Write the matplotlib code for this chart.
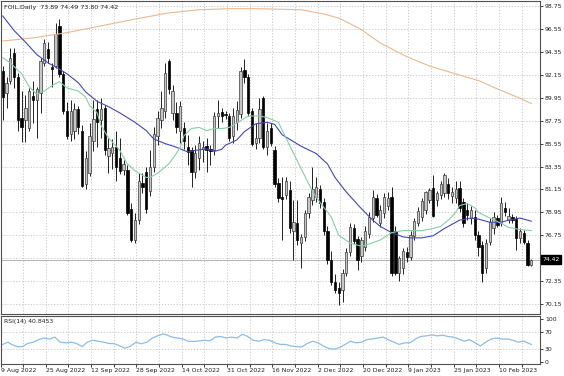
import matplotlib
matplotlib.use("Agg")
import matplotlib.pyplot as plt
import matplotlib.transforms as mtransforms
import numpy as np

plt.rcParams['font.family'] = 'DejaVu Sans'

# FOIL daily candles (open, high, low, close)
opens = [92.5, 90.4, 91.6, 94.2, 91.9, 88.0, 87.8, 87.0, 90.1, 89.7,
         90.4, 93.3, 94.6, 92.9, 93.0, 96.85, 92.25, 88.7, 86.5, 86.8,
         88.9, 86.8, 81.7, 82.7, 85.8, 88.9, 87.8, 89.0, 84.4, 84.6,
         85.2, 84.2, 83.0, 82.97, 79.3, 76.3, 78.2, 81.8, 82.8, 81.0,
         83.3, 86.3, 87.8, 88.7, 93.5, 88.5, 88.5, 86.8, 87.0, 85.2,
         84.9, 82.8, 84.2, 85.0, 85.3, 85.0, 84.9, 88.2, 88.6, 88.4,
         88.2, 86.3, 87.6, 88.4, 92.6, 91.9, 88.7, 85.65, 86.1, 89.9,
         85.2, 87.0, 84.9, 81.8, 80.4, 80.6, 81.06, 77.2, 77.9, 76.0,
         76.6, 78.9, 80.1, 80.4, 81.2, 79.9, 77.2, 74.4, 72.3, 71.7,
         71.5, 73.1, 75.1, 77.4, 76.4, 74.8, 75.6, 76.9, 78.4, 80.3,
         77.9, 78.9, 79.6, 80.4, 77.2, 73.1, 73.6, 75.1, 74.7, 76.7,
         77.9, 78.5, 79.2, 80.1, 81.3, 80.1, 80.6, 80.8, 81.7, 80.5,
         80.3, 81.3, 79.9, 79.15, 78.4, 78.5, 76.75, 75.8, 73.6, 76.1,
         77.4, 78.4, 77.9, 79.4, 78.2, 78.5, 78.3, 76.5, 77.0, 76.0,
         73.89]
highs = [93.0, 91.9, 94.7, 94.7, 92.3, 90.6, 90.2, 90.9, 91.6, 91.0,
         93.8, 95.6, 95.3, 93.3, 97.1, 97.5, 92.5, 89.5, 89.7, 89.4,
         89.2, 87.3, 84.8, 87.5, 89.7, 89.7, 89.95, 89.3, 86.1, 86.0,
         86.8, 86.1, 84.0, 83.5, 79.8, 78.9, 82.7, 82.7, 83.3, 84.9,
         87.1, 88.7, 90.6, 93.3, 93.7, 91.2, 89.5, 89.6, 87.6, 86.4,
         85.2, 85.4, 86.3, 85.8, 86.1, 85.4, 88.6, 89.7, 89.0, 88.7,
         88.5, 89.0, 89.6, 92.9, 93.7, 92.2, 89.0, 87.5, 89.9, 90.1,
         87.5, 87.5, 85.3, 82.2, 82.3, 82.3, 82.0, 80.1, 80.1, 76.9,
         79.2, 80.8, 83.3, 82.3, 81.6, 80.3, 77.6, 75.2, 73.0, 72.3,
         73.5, 75.5, 77.9, 77.8, 76.7, 76.6, 77.6, 79.0, 81.1, 80.7,
         79.7, 80.8, 80.9, 81.4, 77.6, 74.8, 75.5, 75.6, 77.2, 78.4,
         79.5, 80.3, 81.0, 81.3, 82.5, 81.0, 82.0, 82.7, 82.2, 81.4,
         82.0, 82.0, 80.3, 79.8, 79.6, 79.2, 77.2, 76.2, 76.4, 78.4,
         79.0, 78.7, 80.4, 79.9, 79.4, 78.8, 78.6, 77.4, 77.3, 76.3,
         74.49]
lows = [87.8, 89.0, 91.3, 90.9, 86.8, 85.7, 85.7, 86.8, 87.5, 86.1,
        88.5, 93.0, 93.3, 91.0, 92.8, 91.9, 88.4, 86.0, 85.8, 86.0,
        86.5, 81.35, 81.2, 82.4, 84.8, 85.2, 86.1, 84.5, 82.7, 83.1,
        82.0, 82.6, 82.5, 78.7, 76.1, 76.0, 77.8, 80.8, 78.9, 80.5,
        82.8, 85.4, 87.0, 88.0, 90.3, 87.8, 86.6, 85.6, 85.0, 83.5,
        81.35, 82.2, 83.0, 83.8, 82.8, 83.5, 84.5, 87.0, 87.6, 87.9,
        85.8, 85.6, 86.9, 88.0, 91.4, 88.2, 85.3, 85.0, 85.6, 85.0,
        84.5, 85.3, 81.4, 79.9, 76.3, 80.2, 77.0, 74.4, 75.8, 73.6,
        76.2, 78.4, 79.7, 79.9, 79.4, 76.8, 74.0, 72.0, 71.2, 70.05,
        70.3, 72.8, 74.8, 75.9, 73.4, 74.2, 75.2, 76.5, 78.0, 78.5,
        77.5, 78.4, 79.2, 72.8, 72.9, 72.4, 73.0, 74.2, 74.4, 76.3,
        77.6, 78.1, 78.8, 79.8, 78.5, 79.6, 80.2, 80.4, 80.2, 79.8,
        79.8, 79.0, 77.5, 78.2, 77.8, 76.3, 74.8, 72.3, 73.1, 75.8,
        76.9, 77.5, 77.6, 78.6, 77.9, 77.9, 75.3, 76.0, 75.9, 73.8,
        73.80]
closes = [90.0, 91.4, 93.8, 91.9, 87.8, 87.1, 89.0, 90.6, 89.7, 90.8,
          93.5, 95.2, 93.8, 92.7, 96.1, 92.25, 88.7, 86.3, 88.7, 88.9,
          87.1, 81.5, 84.2, 86.3, 87.9, 87.6, 88.9, 84.9, 85.1, 85.2,
          83.3, 82.95, 83.6, 78.9, 76.3, 78.2, 82.0, 81.35, 79.3, 83.3,
          86.5, 88.0, 89.0, 92.35, 90.8, 90.6, 87.1, 89.2, 85.8, 84.7,
          82.8, 84.6, 85.6, 85.2, 84.9, 84.8, 88.2, 88.5, 88.2, 88.3,
          86.1, 88.2, 88.8, 92.5, 91.9, 88.5, 85.55, 86.1, 88.9, 85.2,
          86.8, 85.6, 81.7, 80.3, 80.2, 82.0, 77.4, 78.0, 76.3, 76.6,
          78.9, 80.4, 81.2, 81.35, 79.8, 77.2, 74.4, 72.3, 71.5, 71.2,
          73.1, 75.1, 77.5, 76.2, 74.4, 76.3, 77.2, 78.5, 80.4, 78.7,
          79.2, 80.4, 80.3, 73.1, 73.1, 74.6, 75.2, 74.7, 76.8, 78.1,
          79.1, 80.0, 80.9, 81.1, 78.6, 80.8, 81.7, 82.5, 80.8, 80.9,
          81.2, 79.4, 77.9, 78.7, 79.15, 76.75, 75.6, 73.1, 76.0, 78.0,
          78.5, 77.7, 79.8, 78.95, 78.6, 78.2, 76.5, 77.2, 76.1, 73.9,
          74.42]

# moving averages read at selected bars
ma_blue_bars = [0, 3, 6, 9, 12, 15, 17, 20, 22, 25, 28, 31, 35, 38, 40, 43, 46, 49,
                51, 54, 56, 58, 59, 62, 64, 67, 70, 72, 74, 79, 83, 86, 88, 91, 93,
                95, 98, 100, 103, 106, 108, 111, 114, 117, 119, 121, 124, 126, 129,
                132, 134, 137, 140]
ma_blue = [97.8, 96.4, 95.3, 94.1, 93.3, 92.7, 92.25, 91.4, 90.5, 89.6, 89.1, 88.5,
           87.6, 86.8, 86.0, 85.55, 85.2, 84.75, 84.9, 85.05, 84.8, 85.0, 85.4, 85.9,
           86.7, 87.45, 87.6, 87.4, 86.4, 85.3, 84.6, 83.6, 82.3, 80.9, 80.1, 79.3,
           78.2, 77.6, 77.0, 76.6, 76.5, 76.5, 76.7, 77.4, 77.8, 78.2, 78.4, 78.3,
           78.0, 78.0, 78.2, 78.4, 78.1]
ma_green_bars = [0, 2, 5, 7, 9, 11, 13, 15, 16, 17, 20, 22, 23, 25, 26, 28, 31, 33,
                 35, 38, 39, 41, 44, 46, 47, 48, 50, 52, 54, 56, 58, 60, 63, 65, 68,
                 70, 73, 75, 78, 81, 83, 87, 89, 92, 95, 97, 100, 103, 106, 111, 114,
                 116, 118, 120, 121, 123, 125, 126, 129, 132, 134, 137, 140]
ma_green = [93.8, 93.3, 92.25, 91.0, 90.3, 90.6, 91.1, 91.5, 91.2, 90.9, 90.6, 90.0,
            89.2, 88.5, 87.3, 86.1, 84.9, 83.6, 82.95, 82.3, 82.3, 82.7, 83.6, 84.6,
            85.2, 86.3, 87.0, 87.1, 86.8, 87.0, 87.0, 87.1, 87.75, 88.2, 88.2, 88.05,
            87.6, 86.1, 83.9, 81.7, 80.4, 78.5, 76.75, 76.0, 75.7, 75.9, 76.3, 77.0,
            77.2, 77.2, 77.4, 77.6, 78.2, 78.95, 79.6, 79.8, 79.4, 78.95, 78.4, 77.9,
            77.5, 77.3, 77.2]
ma_orange_bars = [0, 8, 17, 26, 35, 44, 52, 60, 68, 79, 85, 89, 95, 100, 107, 113,
                  119, 126, 131, 137, 140]
ma_orange = [95.4, 95.7, 96.2, 96.85, 97.5, 98.1, 98.4, 98.5, 98.5, 98.4, 98.0, 97.6,
             96.5, 95.2, 93.9, 93.0, 92.35, 91.6, 90.8, 89.9, 89.4]

# RSI(14)
rsi_bars = [0, 1.4, 2.3, 3.8, 5.2, 6.6, 8.1, 9.5, 10.9, 12.4, 13.8, 15.2, 16.7, 18.1,
            19.5, 21, 22.4, 23.8, 25.3, 26.7, 28.1, 29.6, 31, 32.4, 33.9, 35.3, 36.7,
            38.2, 39.6, 41, 42.5, 43.4, 44.8, 46.3, 47.7, 49.1, 50.6, 52, 53.4, 54.9,
            56.3, 57.7, 59.2, 60.6, 62, 63.5, 64.9, 66.3, 67.8, 69.2, 70.6, 72.1, 73.5,
            74.9, 76.4, 77.8, 79.2, 80.7, 82.1, 83.5, 84.9, 86.4, 87.8, 89.2, 90.7,
            92.1, 93.5, 95, 96.4, 97.8, 99.3, 100.7, 102.1, 103.6, 105, 106.4, 107.9,
            109.3, 110.7, 112.2, 113.6, 115, 116.5, 117.9, 119.3, 120.8, 122.2, 123.6,
            125.1, 126.5, 127.9, 129.4, 130.8, 132.2, 133.7, 135.1, 136.5, 138, 139.4,
            140]
rsi = [40.9, 46.0, 40.9, 35.8, 35.8, 43.1, 46.0, 51.8, 55.5, 53.3, 57.6, 46.0, 44.5,
       46.0, 43.1, 35.8, 46.0, 50.4, 48.2, 46.0, 43.1, 42.4, 37.3, 32.2, 37.3, 46.0,
       42.4, 46.0, 55.5, 60.5, 64.9, 62.7, 57.6, 55.5, 53.3, 48.2, 47.5, 48.9, 50.4,
       48.9, 57.6, 59.1, 55.5, 57.6, 55.5, 64.2, 59.1, 50.4, 48.2, 51.8, 50.4, 44.5,
       40.9, 40.9, 37.3, 35.8, 35.1, 43.1, 48.2, 44.5, 37.3, 31.5, 30.0, 33.6, 40.9,
       48.2, 44.5, 46.0, 51.8, 53.3, 55.5, 57.6, 51.8, 46.0, 40.9, 44.5, 44.5, 53.3,
       59.1, 60.5, 62.7, 60.5, 62.0, 59.1, 57.6, 53.3, 48.2, 51.8, 44.5, 37.3, 46.0,
       53.3, 55.5, 53.3, 53.3, 50.4, 46.0, 48.2, 43.1, 40.8]

date_labels = ['9 Aug 2022', '25 Aug 2022', '12 Sep 2022', '28 Sep 2022',
               '14 Oct 2022', '31 Oct 2022', '16 Nov 2022', '2 Dec 2022',
               '20 Dec 2022', '9 Jan 2023', '25 Jan 2023', '10 Feb 2023']
price_ticks = [70.15, 72.35, 74.55, 76.75, 78.95, 81.15, 83.35, 85.55, 87.75,
               89.95, 92.15, 94.35, 96.55, 98.75]
rsi_ticks = [0, 30, 70, 100]

W, H = 564, 376
fig = plt.figure(figsize=(W / 100, H / 100), dpi=100)
ax = fig.add_axes([0.5 / W, 1 - 314 / H, 539.5 / W, 313 / H])
axr = fig.add_axes([0.5 / W, 1 - 364 / H, 539.5 / W, 48 / H])

n = len(closes)
x = np.arange(n)
o = np.array(opens); c = np.array(closes)
hi = np.array(highs); lo = np.array(lows)
up = c >= o

# grid: vertical every 6 bars, labels every 12
grid_pos = np.arange(0, n + 2, 6) - 0.6
gstyle = dict(color='#c4c4c4', linestyle=(0, (1.5, 2)), linewidth=0.6)

for a in (ax, axr):
    a.set_xlim(-0.53, 142.3)
    a.set_xticks(grid_pos)
    a.grid(True, axis='x', **gstyle)
    a.set_facecolor('white')
    for s in a.spines.values():
        s.set_color('#505050')
        s.set_linewidth(0.8)

ax.set_ylim(69.19, 99.24)
ax.set_yticks(price_ticks)
# the 74.55 label sits under the current-price tag
ax.set_yticklabels(['' if abs(t - closes[-1]) < 0.5 else '%.2f' % t for t in price_ticks])
ax.grid(True, axis='y', **gstyle)
ax.yaxis.tick_right()
ax.tick_params(axis='y', length=2, width=0.6, pad=1.5, labelsize=4.4, colors='#202020')
ax.tick_params(axis='x', length=0, labelbottom=False)

# current price line
ax.axhline(closes[-1], color='#b4b4b4', linewidth=0.7, zorder=1)

# candles
ax.vlines(x, lo, hi, color='#222222', linewidth=0.7, zorder=3)
body_lo = np.minimum(o, c)
body_h = np.maximum(np.abs(c - o), 0.07)
ax.bar(x[up], body_h[up], bottom=body_lo[up], width=0.62, color='#c6c6c6',
       edgecolor='#3a3a3a', linewidth=0.5, zorder=4)
ax.bar(x[~up], body_h[~up], bottom=body_lo[~up], width=0.62, color='#000000',
       edgecolor='#000000', linewidth=0.5, zorder=4)

# moving averages
ax.plot(ma_orange_bars, ma_orange, color='#e9b98f', linewidth=0.8, zorder=5)
ax.plot(ma_blue_bars, ma_blue, color='#4444c4', linewidth=0.8, zorder=5)
ax.plot(ma_green_bars, ma_green, color='#86cfa6', linewidth=0.8, zorder=5)

ax.text(0.006, 0.988, 'FOIL,Daily  %.2f %.2f %.2f %.2f' % (opens[-1], highs[-1], lows[-1], closes[-1]),
        transform=ax.transAxes, ha='left', va='top', fontsize=4.6, color='#202020')

# price tag on right axis
tr = mtransforms.blended_transform_factory(ax.transAxes, ax.transData)
ax.text(1.004, closes[-1], '%.2f' % closes[-1], transform=tr, ha='left', va='center',
        fontsize=4.4, color='white', zorder=10, clip_on=False,
        bbox=dict(boxstyle='square,pad=0.25', facecolor='black', edgecolor='black'))

# RSI panel
axr.set_ylim(-4, 106)
axr.set_yticks(rsi_ticks)
axr.yaxis.tick_right()
axr.tick_params(axis='y', length=2, width=0.6, pad=1.5, labelsize=4.4, colors='#202020')
axr.axhline(70, **gstyle)
axr.axhline(30, **gstyle)
axr.plot(rsi_bars, rsi, color='#8cbde6', linewidth=0.9)
axr.text(0.006, 0.93, 'RSI(14) 40.8453', transform=axr.transAxes, ha='left', va='top',
         fontsize=4.4, color='#202020')

tick_labels = [date_labels[i // 2] if i % 2 == 0 and i // 2 < len(date_labels) else ''
               for i in range(len(grid_pos))]
axr.set_xticklabels(tick_labels)
axr.tick_params(axis='x', length=2, width=0.6, pad=1.0, labelsize=4.4, colors='#202020')
for lbl in axr.get_xticklabels():
    lbl.set_ha('left')

fig.savefig('out.png', dpi=100, facecolor='white')
